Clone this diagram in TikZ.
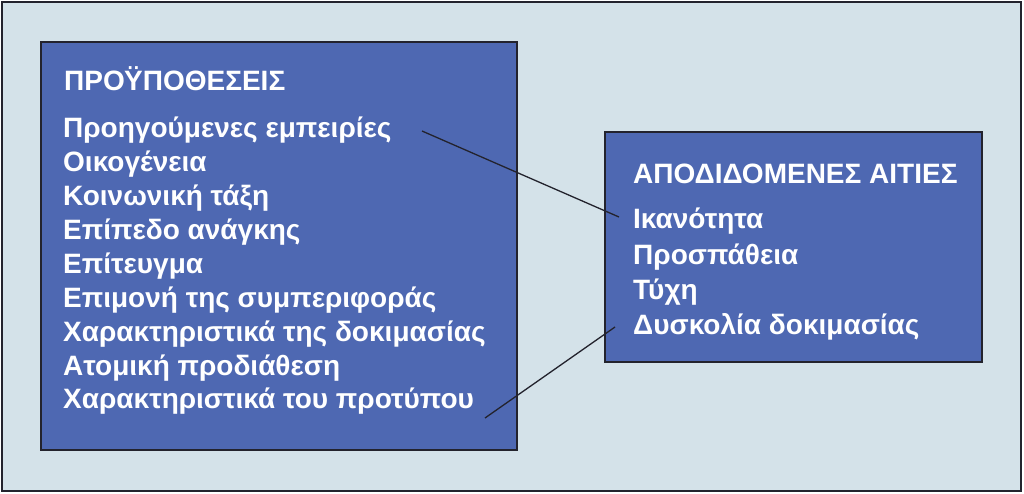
\documentclass[tikz,border=0pt]{standalone}
\usepackage{fontspec}
\setmainfont{Liberation Sans}
\definecolor{bg}{RGB}{212,226,233}
\definecolor{boxblue}{RGB}{78,104,178}
\definecolor{edge}{RGB}{35,35,45}
\tikzset{
  panel/.style={draw=edge, line width=1.6pt, fill=boxblue, inner sep=0pt},
  txt/.style={anchor=base west, text=white, font=\fontsize{28}{30}\selectfont\bfseries, inner sep=0pt},
  link/.style={draw=edge, line width=1.3pt}
}
\begin{document}
\begin{tikzpicture}[x=1pt,y=-1pt]
\useasboundingbox (0,0) rectangle (1024,493);
\fill[bg] (2,2) rectangle (1021,491);
\draw[edge, line width=1.8pt] (2,2) rectangle (1021,491);
\node[panel, minimum width=476pt, minimum height=408pt] (L) at (279,246) {};
\node[panel, minimum width=377pt, minimum height=230pt] (R) at (793.5,247) {};
\node[txt] (t1) at (64,90) {ΠΡΟΫΠΟΘΕΣΕΙΣ};
\node[txt] (l1) at (63,137) {Προηγούμενες εμπειρίες};
\node[txt] (l2) at (63,171) {Οικογένεια};
\node[txt] (l3) at (63,205) {Κοινωνική τάξη};
\node[txt] (l4) at (63,239) {Επίπεδο ανάγκης};
\node[txt] (l5) at (63,273) {Επίτευγμα};
\node[txt] (l6) at (63,307) {Επιμονή της συμπεριφοράς};
\node[txt] (l7) at (63,341) {Χαρακτηριστικά της δοκιμασίας};
\node[txt] (l8) at (63,375) {Ατομική προδιάθεση};
\node[txt] (l9) at (63,408) {Χαρακτηριστικά του προτύπου};
\node[txt] (t2) at (633,183) {ΑΠΟΔΙΔΟΜΕΝΕΣ ΑΙΤΙΕΣ};
\node[txt] (r1) at (633,228) {Ικανότητα};
\node[txt] (r2) at (633,264) {Προσπάθεια};
\node[txt] (r3) at (633,299) {Τύχη};
\node[txt] (r4) at (633,334) {Δυσκολία δοκιμασίας};
\coordinate (a1) at (422,131);
\coordinate (b1) at (619,217);
\coordinate (a2) at (485,418);
\coordinate (b2) at (615,327);
\draw[link] (a1) -- (b1);
\draw[link] (a2) -- (b2);
\end{tikzpicture}
\end{document}
